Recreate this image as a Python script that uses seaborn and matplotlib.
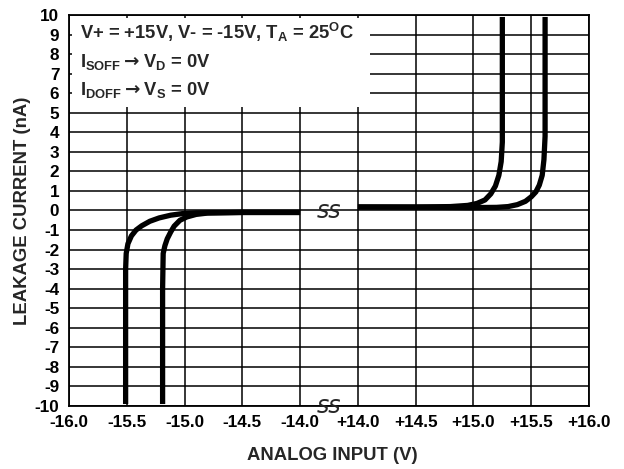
import numpy as np
import pandas as pd
import matplotlib
matplotlib.use("Agg")
import matplotlib.pyplot as plt
import seaborn as sns
from matplotlib.patches import Rectangle

# ---- data ----
left_outer_x = [-15.51, -15.51, -15.51, -15.505, -15.49, -15.46, -15.42, -15.37, -15.30,
                -15.22, -15.12, -15.02, -14.9, -14.5, -14.0]
left_outer_y = [-9.9, -6.0, -3.0, -2.2, -1.7, -1.3, -1.0, -0.78, -0.55,
                -0.38, -0.24, -0.16, -0.12, -0.1, -0.1]

left_inner_x = [-15.19, -15.19, -15.185, -15.17, -15.15, -15.12, -15.09, -15.04, -14.98,
                -14.9, -14.8, -14.5, -14.0]
left_inner_y = [-9.9, -4.0, -2.2, -1.8, -1.45, -1.1, -0.8, -0.5, -0.33,
                -0.2, -0.13, -0.1, -0.1]

right_inner_x = [14.0, 14.5, 14.8, 14.95, 15.03, 15.10, 15.15, 15.19, 15.22, 15.24,
                 15.25, 15.25, 15.25]
right_inner_y = [0.18, 0.18, 0.2, 0.26, 0.36, 0.54, 0.85, 1.25, 1.8, 2.5,
                 3.5, 6.0, 9.9]

right_outer_x = [14.0, 14.5, 15.0, 15.2, 15.3, 15.38, 15.45, 15.5, 15.54, 15.57,
                 15.595, 15.61, 15.62, 15.62, 15.62]
right_outer_y = [0.18, 0.17, 0.15, 0.16, 0.2, 0.3, 0.47, 0.7, 0.95, 1.3,
                 1.8, 2.6, 3.8, 6.0, 9.9]

x_ticks = [-16.0, -15.5, -15.0, -14.5, -14.0, 14.0, 14.5, 15.0, 15.5, 16.0]
x_tick_labels = ["-16.0", "-15.5", "-15.0", "-14.5", "-14.0",
                 "+14.0", "+14.5", "+15.0", "+15.5", "+16.0"]
y_ticks = list(range(-10, 11))
y_tick_labels = [str(v) for v in y_ticks]

box_lines = [r"V+ = +15V, V- = -15V, T$_\mathregular{A}$ = 25$^\mathregular{O}$C",
             r"I$_\mathregular{SOFF}\rightarrow$V$_\mathregular{D}$ = 0V",
             r"I$_\mathregular{DOFF}\rightarrow$V$_\mathregular{S}$ = 0V"]

df = pd.concat([
    pd.DataFrame({"x": left_outer_x, "y": left_outer_y, "curve": "L1"}),
    pd.DataFrame({"x": left_inner_x, "y": left_inner_y, "curve": "L2"}),
    pd.DataFrame({"x": right_inner_x, "y": right_inner_y, "curve": "R1"}),
    pd.DataFrame({"x": right_outer_x, "y": right_outer_y, "curve": "R2"}),
], ignore_index=True)

# ---- style ----
sns.set_style("white")
plt.rcParams["font.family"] = ["Liberation Sans", "DejaVu Sans"]
plt.rcParams["font.weight"] = "bold"
plt.rcParams["mathtext.fontset"] = "dejavusans"


# broken axis: -16..-14 and +14..+16 on equal spacing, the gap squeezed into one step
def fwd(x):
    x = np.asarray(x, dtype=float)
    return np.where(x <= -14, (x + 16) * 2,
                    np.where(x >= 14, 5 + (x - 14) * 2, 4 + (x + 14) / 28))


def inv(u):
    u = np.asarray(u, dtype=float)
    return np.where(u <= 4, u / 2 - 16,
                    np.where(u >= 5, 14 + (u - 5) / 2, -14 + (u - 4) * 28))


fig = plt.figure(figsize=(6.24, 4.69), dpi=100)
ax = fig.add_axes([69 / 624, 63 / 469, 520 / 624, 391 / 469])

sns.lineplot(data=df, x="x", y="y", units="curve", estimator=None, sort=False,
             color="black", linewidth=3.8, ax=ax, zorder=2)
for ln in ax.lines:
    ln.set_solid_capstyle("butt")

ax.set_xscale("function", functions=(fwd, inv))
ax.set_xlim(-16, 16)
ax.set_ylim(-10, 10)
ax.set_xticks(x_ticks)
ax.set_xticklabels(x_tick_labels)
ax.set_yticks(y_ticks)
ax.set_yticklabels(y_tick_labels)
ax.minorticks_off()
ax.grid(True, color="black", linewidth=1.1)
ax.set_axisbelow(True)
ax.tick_params(axis="both", length=0, labelsize=12.3, colors="black")
ax.tick_params(axis="x", pad=6.5)
ax.tick_params(axis="y", pad=7)
for lab in ax.get_xticklabels() + ax.get_yticklabels():
    lab.set_fontweight("bold")
for s in ax.spines.values():
    s.set_visible(True)
    s.set_color("black")
    s.set_linewidth(1.3)

ax.set_xlabel("ANALOG INPUT (V)", fontsize=13.3, fontweight="bold")
ax.set_ylabel("LEAKAGE CURRENT (nA)", fontsize=13.3, fontweight="bold")
ax.xaxis.set_label_coords(0.506, -0.105)
ax.yaxis.set_label_coords(-0.074, 0.5)

# condition box
ax.add_patch(Rectangle((0.006, 0.765), 0.573, 0.227, transform=ax.transAxes,
                       facecolor="white", edgecolor="none", zorder=1.5))
for txt, yb in zip(box_lines, [0.939, 0.868, 0.795]):
    ax.text(0.021, yb, txt, transform=ax.transAxes, fontsize=13.2,
            fontweight="bold", va="baseline", ha="left", zorder=3)

# axis break marks
for yb in [0.0, -10.0]:
    ax.text(0.0, yb, "ss", fontsize=17, fontstyle="italic", fontweight="normal",
            family="DejaVu Sans", ha="center", va="center", zorder=4, clip_on=False)

fig.savefig("out.png", dpi=100)
